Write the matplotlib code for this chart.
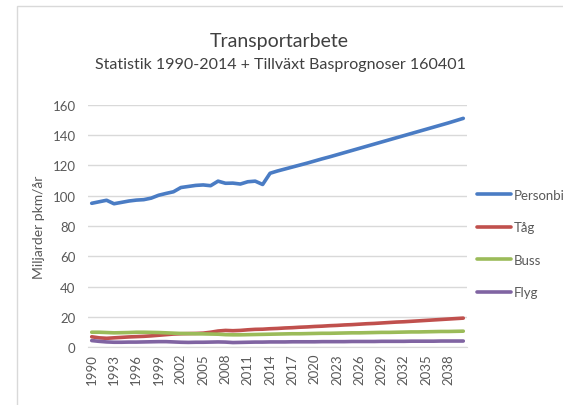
import matplotlib.pyplot as plt
from matplotlib.patches import Rectangle

years = list(range(1990, 2041))

personbil = [95.0, 96.0, 97.0, 94.7, 95.6, 96.5, 97.1, 97.4, 98.4, 100.3,
             101.5, 102.6, 105.4, 106.1, 106.8, 107.1, 106.6, 109.6, 108.2, 108.3,
             107.7, 109.2, 109.6, 107.4, 114.8, 116.3, 117.6, 118.9, 120.2, 121.5,
             122.9, 124.3, 125.6, 127.0, 128.4, 129.8, 131.2, 132.6, 134.0, 135.4,
             136.8, 138.2, 139.6, 141.0, 142.4, 143.8, 145.2, 146.6, 148.0, 149.5,
             151.0]

tag = [7.0, 6.3, 6.0, 6.3, 6.6, 6.9, 7.1, 7.3, 7.6, 8.0,
       8.4, 8.8, 9.0, 9.1, 9.2, 9.4, 10.0, 10.8, 11.2, 11.0,
       11.2, 11.6, 11.9, 12.0, 12.3, 12.5, 12.8, 13.0, 13.3, 13.5,
       13.8, 14.0, 14.3, 14.5, 14.8, 15.0, 15.3, 15.6, 15.8, 16.1,
       16.4, 16.7, 16.9, 17.2, 17.5, 17.8, 18.1, 18.4, 18.7, 19.0,
       19.3]

buss = [10.0, 10.0, 9.8, 9.6, 9.7, 9.8, 10.0, 10.0, 9.9, 9.8,
        9.6, 9.4, 9.2, 9.1, 9.0, 8.9, 8.8, 8.7, 8.4, 8.3,
        8.3, 8.4, 8.5, 8.6, 8.7, 8.8, 8.9, 9.0, 9.0, 9.1,
        9.2, 9.3, 9.3, 9.4, 9.5, 9.6, 9.6, 9.7, 9.8, 9.9,
        9.9, 10.0, 10.1, 10.2, 10.2, 10.3, 10.4, 10.5, 10.5, 10.6,
        10.7]

flyg = [4.5, 4.0, 3.6, 3.4, 3.4, 3.5, 3.5, 3.6, 3.7, 3.8,
        3.8, 3.6, 3.4, 3.3, 3.4, 3.4, 3.5, 3.6, 3.5, 3.2,
        3.3, 3.4, 3.5, 3.5, 3.6, 3.6, 3.6, 3.7, 3.7, 3.7,
        3.7, 3.8, 3.8, 3.8, 3.8, 3.9, 3.9, 3.9, 3.9, 4.0,
        4.0, 4.0, 4.0, 4.1, 4.1, 4.1, 4.1, 4.2, 4.2, 4.2,
        4.2]

series = [("Personbil", personbil, "#4A7CC4"),
          ("Tåg", tag, "#C0504D"),
          ("Buss", buss, "#9BBB59"),
          ("Flyg", flyg, "#8064A2")]

plt.rcParams['font.family'] = ['Lato', 'DejaVu Sans']
txt = "#595959"

fig = plt.figure(figsize=(5.63, 4.06), dpi=100)
fig.patches.append(Rectangle((17 / 563, -0.1), 1.2, 1.1 - 7 / 406,
                             transform=fig.transFigure, fill=False,
                             edgecolor="#d9d9d9", linewidth=1.0))

ax = fig.add_axes([88 / 563, (406 - 348.4) / 406, 379 / 563, 242.7 / 406])
for name, vals, col in series:
    ax.plot(years, vals, color=col, linewidth=2.6, label=name, solid_capstyle="round")

ax.set_xlim(1989.5, 2040.5)
ax.set_ylim(0, 160)
ax.set_yticks(range(0, 161, 20))
ax.set_xticks(years[::3])
ax.set_xticklabels([str(y) for y in years[::3]], rotation=90)
ax.tick_params(axis="both", length=0, colors=txt, labelsize=9.5)
ax.tick_params(axis="x", pad=4)
ax.tick_params(axis="y", pad=9)
ax.grid(axis="y", color="#d9d9d9", linewidth=1)
ax.set_axisbelow(True)
for s in ["top", "right", "left"]:
    ax.spines[s].set_visible(False)
ax.spines["bottom"].set_color("#d9d9d9")
ax.set_ylabel("Miljarder pkm/år", color=txt, fontsize=10, labelpad=5)

fig.text(279 / 563, 1 - 42 / 406, "Transportarbete", ha="center", va="center",
         fontsize=14, color="#404040")
fig.text(280 / 563, 1 - 65 / 406, "Statistik 1990-2014 + Tillväxt Basprognoser 160401",
         ha="center", va="center", fontsize=11.5, color="#404040")

fig.legend(loc="center left", bbox_to_anchor=(477 / 563, 1 - 244.5 / 406),
           bbox_transform=fig.transFigure, frameon=False, fontsize=9.5,
           labelspacing=1.55, handlelength=2.6, handletextpad=0.15,
           borderaxespad=0, borderpad=0, labelcolor=txt)

fig.savefig("out.png", dpi=100)
